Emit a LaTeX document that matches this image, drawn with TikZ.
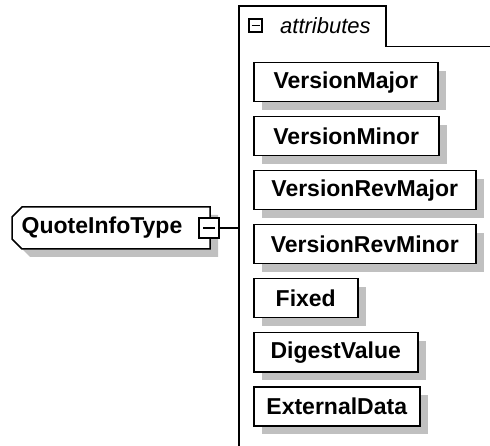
\documentclass[tikz,border=0pt]{standalone}
\usepackage{fontspec}
\setmainfont{Liberation Sans}
\usetikzlibrary{shadows}
\definecolor{shadowgray}{RGB}{192,192,192}
\begin{document}
\begin{tikzpicture}[x=1pt,y=-1pt,
  attrbox/.style={draw=black, line width=1.5pt, fill=white, anchor=north west,
    minimum height=39pt, inner sep=0pt, align=center,
    font=\fontsize{23}{27}\selectfont\bfseries,
    drop shadow={shadow xshift=8pt, shadow yshift=-8pt, opacity=1, fill=shadowgray, draw=none}},
  minusbox/.style={draw=black, line width=1.3pt, fill=white, inner sep=0pt},
  grpline/.style={draw=black, line width=1.2pt},
  conn/.style={draw=black, line width=1.3pt}]
\useasboundingbox (0,0) rectangle (490,446);

% group (attributes) frame
\draw[grpline] (239,446) -- (239,6) -- (386,6) -- (386,46.5) -- (490,46.5);
\node[minusbox, minimum size=13pt] (tabminus) at (255.5,25.5) {};
\draw[line width=1.2pt] (251.5,25.5) -- (259.5,25.5);
\node[font=\fontsize{22}{26}\selectfont\itshape, anchor=west, inner sep=0pt] (attrlabel) at (280,26) {attributes};
\coordinate (grp) at (239,228);

% QuoteInfoType complex type
\fill[shadowgray] (30,215) -- (218,215) -- (218,257) -- (30,257) -- (20,247) -- (20,225) -- cycle;
\draw[line width=1.5pt, fill=white] (22,207) -- (210,207) -- (210,249) -- (22,249) -- (12,239) -- (12,217) -- cycle;
\node[font=\fontsize{23}{27}\selectfont\bfseries, inner sep=0pt] (qit) at (102,228) {QuoteInfoType};
\node[minusbox, minimum size=20pt] (qminus) at (209,228) {};
\draw[line width=1.3pt] (203,228) -- (215,228);
\draw[conn] (qminus.east) -- (grp);

% attributes
\node[attrbox, minimum width=184pt] (vmaj) at (253,62) {VersionMajor};
\node[attrbox, minimum width=185pt] (vmin) at (253,116) {VersionMinor};
\node[attrbox, minimum width=222pt] (vrmaj) at (253,170) {VersionRevMajor};
\node[attrbox, minimum width=222pt] (vrmin) at (253,224) {VersionRevMinor};
\node[attrbox, minimum width=104pt] (fixed) at (253,278) {Fixed};
\node[attrbox, minimum width=164pt] (digest) at (253,332) {DigestValue};
\node[attrbox, minimum width=166pt] (ext) at (253,386) {ExternalData};
\end{tikzpicture}
\end{document}
